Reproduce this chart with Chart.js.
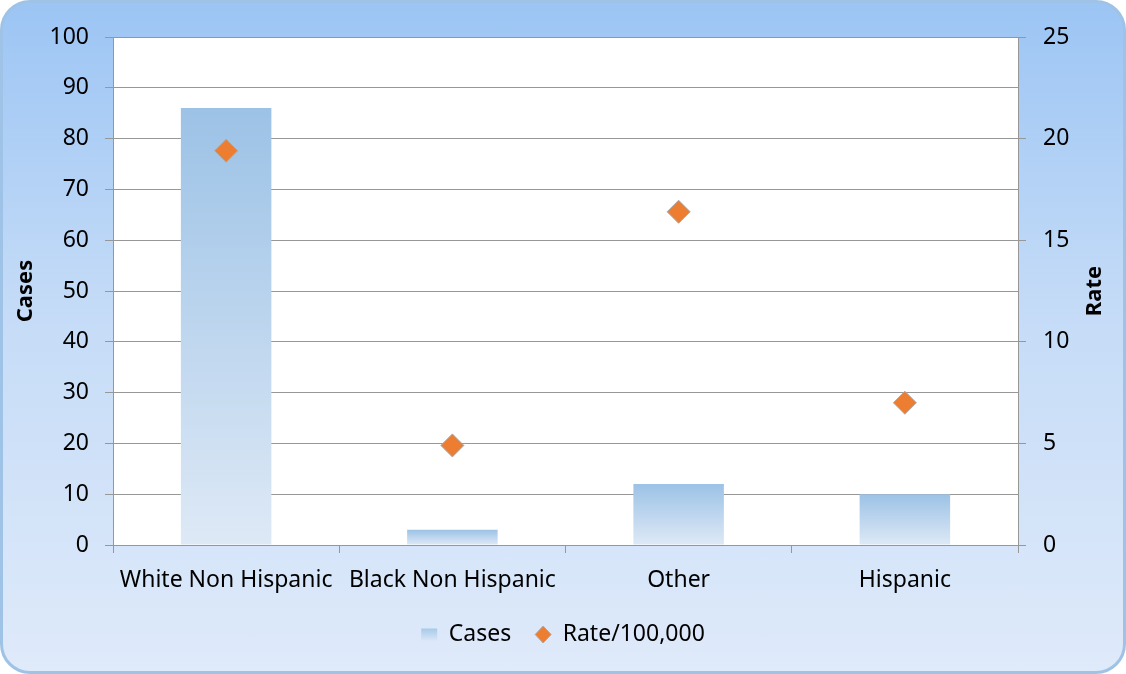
<!DOCTYPE html>
<html lang="en">
  <head>
    <meta charset="UTF-8" />
    <title>Cases and Rate by Race/Ethnicity</title>
    <script src="https://cdn.jsdelivr.net/npm/chart.js"></script>
    <style>
      body { margin: 0; background: #fff; }
      #frame {
        position: absolute; left: 0; top: 0;
        width: 1126px; height: 674px; box-sizing: border-box;
        border: 3px solid #9fc3e6; border-radius: 30px;
        background: linear-gradient(to bottom, #9cc5f4 0%, #c4dbf7 45%, #dfeafa 100%);
      }
      #myChart { position: absolute; left: 0; top: 0; }
    </style>
  </head>
  <body>
    <div id="frame"></div>
    <canvas id="myChart" width="1126" height="674"></canvas>
  </body>
  <script>
    // data
    const groups = ["White Non Hispanic", "Black Non Hispanic", "Other", "Hispanic"];
    const cases = [86, 3, 12, 10];
    const rates = [19.4, 4.9, 16.4, 7.0];
    const caseTicks = [0, 100, 10];
    const rateTicks = [0, 25, 5];

    const FONT = "'Noto Sans', sans-serif";
    const gridGray = "#979797";
    const BOTTOM_PAD = 18;

    // bar fill: each bar fades from blue at the top to pale at the base
    function barFill(c) {
      const chart = c.chart;
      const y = chart.scales.y;
      if (!y || c.raw === undefined) return "#a9c9ea";
      const top = y.getPixelForValue(c.raw);
      const base = y.getPixelForValue(0);
      const g = chart.ctx.createLinearGradient(0, top, 0, base);
      g.addColorStop(0, "#9cc2e6");
      g.addColorStop(1, "#dee9f6");
      return g;
    }

    // white plot area + rotated axis titles
    const plotBg = {
      id: "plotBg",
      beforeDraw(chart) {
        const { ctx, chartArea: a } = chart;
        ctx.save();
        ctx.fillStyle = "#fff";
        ctx.fillRect(a.left, a.top, a.right - a.left, a.bottom - a.top);
        ctx.restore();
      },
      afterDraw(chart) {
        const { ctx, chartArea: a } = chart;
        const mid = (a.top + a.bottom) / 2;
        ctx.save();
        ctx.fillStyle = "#000";
        ctx.font = "bold 22px " + FONT;
        ctx.textAlign = "center";
        ctx.textBaseline = "middle";
        [["Cases", 26], ["Rate", 1095]].forEach(([t, x]) => {
          ctx.save();
          ctx.translate(x, mid);
          ctx.rotate(-Math.PI / 2);
          ctx.fillText(t, 0, 0);
          ctx.restore();
        });
        ctx.restore();
      },
    };

    const ctx = document.querySelector("#myChart");

    const ejCt = new Chart(ctx, {
      type: "bar",
      data: {
        labels: groups,
        datasets: [
          {
            label: "Cases",
            data: cases,
            yAxisID: "y",
            backgroundColor: barFill,
            categoryPercentage: 1,
            barPercentage: 0.4,
            order: 2,
          },
          {
            type: "line",
            label: "Rate/100,000",
            data: rates,
            yAxisID: "y1",
            showLine: false,
            pointStyle: "rectRot",
            pointRadius: 11.5,
            pointBackgroundColor: "#ed7d31",
            pointBorderColor: "#a9a9a9",
            pointBorderWidth: 1,
            order: 1,
          },
        ],
      },
      options: {
        responsive: false,
        animation: false,
        layout: { padding: { top: 37, left: 0, right: 0, bottom: BOTTOM_PAD } },
        plugins: {
          tooltip: { enabled: false },
          legend: {
            position: "bottom",
            labels: {
              color: "#000",
              font: { family: FONT, size: 23 },
              usePointStyle: true,
              boxHeight: 12,
              pointStyleWidth: 16,
              padding: 24,
              generateLabels(chart) {
                const g = chart.ctx.createLinearGradient(0, 626, 0, 640);
                g.addColorStop(0, "#9cc2e6");
                g.addColorStop(1, "#d6e5f5");
                return [
                  { text: "Cases", fillStyle: g, strokeStyle: "rgba(0,0,0,0)", lineWidth: 0, pointStyle: "rect", datasetIndex: 0 },
                  { text: "Rate/100,000", fillStyle: "#ed7d31", strokeStyle: "#a9a9a9", lineWidth: 1, pointStyle: "rectRot", datasetIndex: 1 },
                ];
              },
            },
          },
        },
        scales: {
          x: {
            grid: { drawOnChartArea: false, color: gridGray, tickLength: 8, offset: true },
            border: { color: gridGray },
            ticks: { color: "#000", font: { family: FONT, size: 23 }, padding: 14, maxRotation: 0 },
            afterFit(scale) {
              const lg = scale.chart.legend;
              scale.height = scale.chart.height - BOTTOM_PAD - 545 - (lg ? lg.height : 60);
            },
          },
          y: {
            position: "left",
            min: caseTicks[0],
            max: caseTicks[1],
            ticks: { stepSize: caseTicks[2], color: "#000", font: { family: FONT, size: 23 }, padding: 16 },
            grid: { color: gridGray, tickLength: 8 },
            border: { color: gridGray },
            afterFit(scale) { scale.width = 113; },
          },
          y1: {
            position: "right",
            min: rateTicks[0],
            max: rateTicks[1],
            ticks: { stepSize: rateTicks[2], color: "#000", font: { family: FONT, size: 23 }, padding: 17 },
            grid: { drawOnChartArea: false, color: gridGray, tickLength: 8 },
            border: { color: gridGray },
            afterFit(scale) { scale.width = 108; },
          },
        },
      },
      plugins: [plotBg],
    });
  </script>
</html>
